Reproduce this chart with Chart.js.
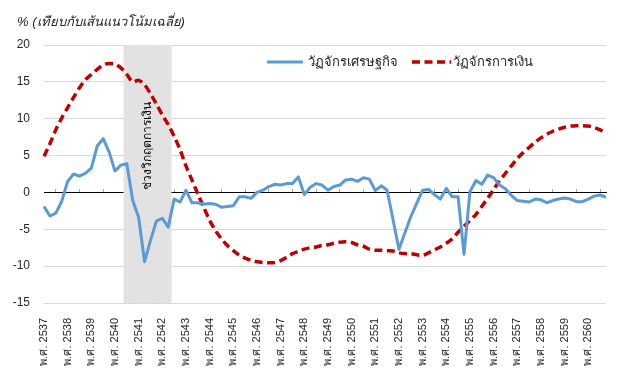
<!DOCTYPE html>
<html>
<head>
<meta charset="utf-8">
<script src="https://cdn.jsdelivr.net/npm/chart.js@4.4.0/dist/chart.umd.min.js"></script>
<style>
  html, body { margin: 0; padding: 0; background: #fff; }
  #contenedor { width: 627px; height: 386px; position: relative; }
</style>
</head>
<body>
<div id="contenedor"><canvas id="grafica"></canvas></div>
<script>
// Datos trimestrales, พ.ศ. 2537 - 2560
const anios = [2537, 2538, 2539, 2540, 2541, 2542, 2543, 2544, 2545, 2546, 2547, 2548,
               2549, 2550, 2551, 2552, 2553, 2554, 2555, 2556, 2557, 2558, 2559, 2560];

// วัฏจักรเศรษฐกิจ (4 valores por año)
const cicloEconomico = [
  -1.9, -3.2, -2.8, -1.2,   1.5, 2.5, 2.2, 2.6,   3.3, 6.3, 7.3, 5.5,
   2.9, 3.7, 3.9, -1.1,  -3.4, -9.4, -6.5, -3.9,  -3.5, -4.7, -0.9, -1.3,
   0.3, -1.4, -1.4, -1.6,  -1.5, -1.6, -2.0, -1.9,  -1.8, -0.6, -0.6, -0.8,
   0.0, 0.3, 0.8, 1.1,   1.0, 1.2, 1.2, 2.1,  -0.3, 0.7, 1.2, 1.0,
   0.3, 0.8, 1.0, 1.7,   1.8, 1.5, 2.0, 1.8,   0.25, 0.9, 0.3, -3.7,
  -7.7, -5.5, -3.3, -1.5,   0.3, 0.4, -0.3, -0.9,   0.55, -0.6, -0.6, -8.4,
   0.1, 1.6, 1.1, 2.35,   2.0, 1.0, 0.5, -0.4,  -1.1, -1.2, -1.3, -0.9,
  -1.0, -1.4, -1.1, -0.9,  -0.75, -0.9, -1.25, -1.25,  -0.9, -0.5, -0.35, -0.65
];

// วัฏจักรการเงิน
const cicloFinanciero = [
   4.9, 6.6, 8.5, 10.1,  11.5, 12.9, 14.2, 15.3,  16.0, 16.7, 17.3, 17.5,
  17.4, 16.9, 16.0, 15.0,  15.2, 14.6, 13.4, 12.0,  10.5, 9.2, 7.6, 5.8,
   3.6, 1.7, -0.2, -2.0,  -3.8, -5.2, -6.3, -7.2,  -7.9, -8.5, -8.9, -9.2,
  -9.4, -9.5, -9.55, -9.5,  -9.25, -8.8, -8.3, -8.0,  -7.7, -7.5, -7.4, -7.2,
  -7.1, -6.9, -6.75, -6.7,  -6.8, -7.1, -7.3, -7.7,  -7.85, -7.85, -7.9, -7.95,
  -8.2, -8.3, -8.3, -8.45,  -8.55, -8.2, -7.8, -7.4,  -6.9, -6.3, -5.4, -4.6,
  -3.8, -3.0, -1.9, -0.8,   0.4, 1.6, 2.6, 3.6,   4.6, 5.4, 6.1, 6.8,
   7.4, 7.9, 8.3, 8.6,   8.85, 9.0, 9.05, 9.05,   9.0, 8.8, 8.5, 8.1
];

// franja gris: ช่วงวิกฤตการเงิน (índices de trimestre)
const crisisDesde = 14;
const crisisHasta = 21;
const ejeY = [-15, -10, -5, 0, 5, 10, 15, 20];

const nombreEconomico = 'วัฏจักรเศรษฐกิจ';
const nombreFinanciero = 'วัฏจักรการเงิน';
const tituloEje = '% (เทียบกับเส้นแนวโน้มเฉลี่ย)';
const textoCrisis = 'ช่วงวิกฤตการเงิน';

const etiquetas = [];
anios.forEach((a) => { for (let q = 0; q < 4; q++) etiquetas.push('พ.ศ. ' + a); });

const yMin = ejeY[0], yMax = ejeY[ejeY.length - 1];
const franja = etiquetas.map((e, i) => (i >= crisisDesde && i <= crisisHasta) ? [yMin, yMax] : null);

const fuente = '"Liberation Sans", "DejaVu Sans", sans-serif';
const azul = '#5B9BD5';
const rojo = '#C00000';

// textos: título, leyenda y rótulo de la franja
const textos = {
  id: 'textos',
  afterDraw(chart) {
    const ctx = chart.ctx;
    const x = chart.scales.x, y = chart.scales.y;
    ctx.save();
    ctx.fillStyle = '#262626';
    ctx.textBaseline = 'middle';
    ctx.font = 'italic 13px ' + fuente;
    ctx.fillText(tituloEje, 17, 22);

    // leyenda
    ctx.font = '13px ' + fuente;
    ctx.lineWidth = 3;
    ctx.strokeStyle = azul;
    ctx.beginPath(); ctx.moveTo(267, 62); ctx.lineTo(303, 62); ctx.stroke();
    ctx.fillText(nombreEconomico, 308, 62);
    ctx.strokeStyle = rojo;
    ctx.lineWidth = 3.5;
    ctx.setLineDash([8, 4.5]);
    ctx.beginPath(); ctx.moveTo(412, 62); ctx.lineTo(451, 62); ctx.stroke();
    ctx.setLineDash([]);
    ctx.fillText(nombreFinanciero, 453, 62);

    // rótulo vertical
    ctx.translate(x.getPixelForValue((crisisDesde + crisisHasta) / 2), y.getPixelForValue(6.3));
    ctx.rotate(-Math.PI / 2);
    ctx.textAlign = 'center';
    ctx.font = '12px ' + fuente;
    ctx.fillStyle = '#000';
    ctx.fillText(textoCrisis, 0, 0);
    ctx.restore();
  }
};

new Chart(document.getElementById('grafica'), {
  type: 'line',
  data: {
    labels: etiquetas,
    datasets: [
      {
        type: 'bar',
        label: textoCrisis,
        data: franja,
        backgroundColor: '#e2e2e2',
        borderWidth: 0,
        barPercentage: 1,
        categoryPercentage: 1,
        order: 3
      },
      {
        label: nombreEconomico,
        data: cicloEconomico,
        borderColor: azul,
        borderWidth: 3,
        pointRadius: 0,
        tension: 0,
        borderJoinStyle: 'round',
        order: 1
      },
      {
        label: nombreFinanciero,
        data: cicloFinanciero,
        borderColor: rojo,
        borderWidth: 3.5,
        borderDash: [8, 4.5],
        pointRadius: 0,
        tension: 0.3,
        order: 2
      }
    ]
  },
  options: {
    responsive: true,
    maintainAspectRatio: false,
    animation: false,
    layout: { padding: { top: 45, right: 21, left: 0, bottom: 0 } },
    plugins: {
      legend: { display: false },
      title: { display: false },
      tooltip: { enabled: false }
    },
    scales: {
      x: {
        offset: false,
        grid: { display: false },
        border: { display: false },
        afterFit: (s) => { s.height = 83; },
        ticks: {
          autoSkip: false,
          minRotation: 90,
          maxRotation: 90,
          padding: 7,
          color: '#262626',
          font: { family: fuente, size: 11 },
          callback: function (v, i) { return i % 4 === 0 ? this.getLabelForValue(v) : ''; }
        }
      },
      x2: {
        type: 'category',
        position: { y: 0 },
        offset: false,
        z: 1,
        grid: {
          drawOnChartArea: false,
          tickLength: -4,
          tickColor: (c) => c.index % 4 === 2 ? '#a6a6a6' : 'rgba(0,0,0,0)'
        },
        border: { color: '#000', width: 1 },
        ticks: { display: false, autoSkip: false }
      },
      y: {
        min: yMin,
        max: yMax,
        afterFit: (s) => { s.width = 44; },
        afterBuildTicks: (s) => { s.ticks = ejeY.map((v) => ({ value: v })); },
        grid: { color: '#d9d9d9', drawTicks: false },
        border: { display: false },
        ticks: {
          padding: 14,
          color: '#262626',
          font: { family: fuente, size: 12 }
        }
      }
    }
  },
  plugins: [textos]
});
</script>
</body>
</html>
